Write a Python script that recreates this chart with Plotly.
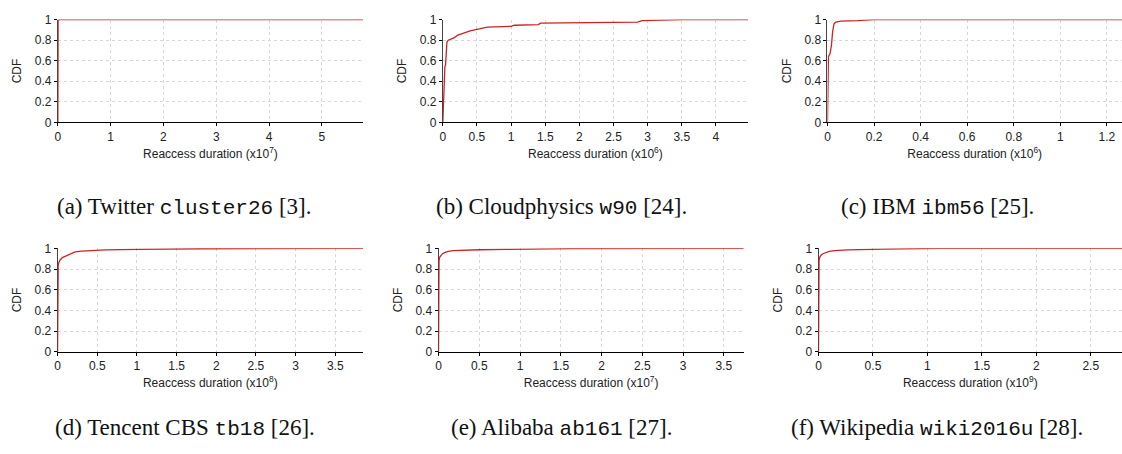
import plotly.graph_objects as go

W, H = 1122, 454

# ---------------- data ----------------
# (a) Twitter cluster26, x in units of 1e7
a_x = [0, 0.005, 0.03, 5.78]
a_y = [0, 0.995, 1.0, 1.0]
# (b) Cloudphysics w90, x in units of 1e6
b_x = [0, 0.008, 0.015, 0.022, 0.03, 0.04, 0.05, 0.06, 0.08, 0.12, 0.17, 0.22, 0.3,
       0.4, 0.5, 0.6, 0.65, 1.0, 1.05, 1.4, 1.43, 2.85, 2.92, 3.5, 4.47]
b_y = [0, 0.2, 0.4, 0.52, 0.54, 0.56, 0.7, 0.78, 0.8, 0.81, 0.825, 0.85, 0.87,
       0.89, 0.905, 0.922, 0.927, 0.935, 0.945, 0.952, 0.965, 0.975, 0.99, 1.0, 1.0]
# (c) IBM ibm56, x in units of 1e6
c_x = [0, 0.001, 0.004, 0.011, 0.017, 0.022, 0.028, 0.035, 0.057, 0.13, 0.2, 1.265]
c_y = [0, 0.6, 0.64, 0.67, 0.75, 0.88, 0.96, 0.975, 0.985, 0.99, 1.0, 1.0]
# (d) Tencent CBS tb18, x in units of 1e8
d_x = [0, 0.003, 0.008, 0.015, 0.03, 0.06, 0.1, 0.15, 0.18, 0.22, 0.3, 0.45, 0.6,
       1.0, 1.8, 3.85]
d_y = [0, 0.75, 0.83, 0.86, 0.885, 0.91, 0.925, 0.94, 0.955, 0.965, 0.972, 0.98,
       0.985, 0.99, 0.996, 1.0]
# (e) Alibaba ab161, x in units of 1e7
e_x = [0, 0.002, 0.006, 0.015, 0.03, 0.05, 0.08, 0.12, 0.18, 0.3, 0.5, 0.82, 1.63, 3.745]
e_y = [0, 0.8, 0.88, 0.915, 0.935, 0.948, 0.96, 0.97, 0.977, 0.983, 0.986, 0.99,
       0.997, 1.0]
# (f) Wikipedia wiki2016u, x in units of 1e9
f_x = [0, 0.002, 0.005, 0.012, 0.025, 0.045, 0.07, 0.1, 0.15, 0.27, 0.6, 1.12, 2.787]
f_y = [0, 0.8, 0.88, 0.915, 0.935, 0.95, 0.962, 0.97, 0.977, 0.984, 0.993, 0.999, 1.0]

x_ranges = [5.78, 4.47, 1.265, 3.85, 3.745, 2.787]
x_dticks = [1, 0.5, 0.2, 0.5, 0.5, 0.5]
exponents = ["7", "6", "6", "8", "7", "9"]
y_ticks = [0, 0.2, 0.4, 0.6, 0.8, 1]

MONO = "font-family:'Liberation Mono';font-size:21px"
captions = [
    f"(a) Twitter <span style=\"{MONO}\">cluster26</span> [3].",
    f"(b) Cloudphysics <span style=\"{MONO}\">w90</span> [24].",
    f"(c) IBM <span style=\"{MONO}\">ibm56</span> [25].",
    f"(d) Tencent CBS <span style=\"{MONO}\">tb18</span> [26].",
    f"(e) Alibaba <span style=\"{MONO}\">ab161</span> [27].",
    f"(f) Wikipedia <span style=\"{MONO}\">wiki2016u</span> [28].",
]

series = [(a_x, a_y), (b_x, b_y), (c_x, c_y), (d_x, d_y), (e_x, e_y), (f_x, f_y)]

# ---------------- layout (pixel boxes) ----------------
px_x = [(55, 361), (441, 747), (826.7, 1122), (54.7, 361), (436.7, 742.7), (817.7, 1122)]
px_y = [(13, 119), (13, 119), (13, 119), (249, 355.7), (249, 355.7), (249, 355.7)]
cap_x = [181, 560, 937, 182, 560, 937]
cap_y = [206, 206, 206, 434, 434, 434]

LINE = "#cc2222"
GRID = "#d8d8d8"
FONT = "Liberation Sans"
TXT = "#222"

fig = go.Figure()
layout = dict(width=W, height=H, margin=dict(l=0, r=0, t=0, b=0),
              plot_bgcolor="white", paper_bgcolor="white", showlegend=False)
annotations = []
for i in range(6):
    n = "" if i == 0 else str(i + 1)
    xs, ys = series[i]
    fig.add_trace(go.Scatter(x=xs, y=ys, mode="lines", line=dict(color=LINE, width=1.3),
                             xaxis="x" + n, yaxis="y" + n, hoverinfo="skip"))
    x0, x1 = px_x[i]
    y0, y1 = px_y[i]
    layout["xaxis" + n] = dict(
        domain=[x0 / W, min(x1 / W, 1)], anchor="y" + n, range=[0, x_ranges[i]],
        dtick=x_dticks[i], tick0=0, showgrid=True, gridcolor=GRID, griddash="dot",
        gridwidth=1, zeroline=False, showline=True, linecolor="black", linewidth=1,
        ticks="outside", ticklen=3, tickcolor="black", layer="below traces",
        tickfont=dict(family=FONT, size=12, color=TXT),
        title=dict(text=f"Reaccess duration (x10<sup>{exponents[i]}</sup>)",
                   font=dict(family=FONT, size=12, color=TXT), standoff=6),
    )
    layout["yaxis" + n] = dict(
        domain=[1 - y1 / H, 1 - y0 / H], anchor="x" + n, range=[0, 1],
        tickvals=y_ticks, ticktext=["0", "0.2", "0.4", "0.6", "0.8", "1"],
        showgrid=True, gridcolor=GRID, griddash="dot", gridwidth=1, zeroline=False,
        showline=True, linecolor="#444", linewidth=1, ticks="outside", ticklen=3,
        tickcolor="black", layer="below traces",
        tickfont=dict(family=FONT, size=12, color=TXT),
        title=dict(text="CDF", font=dict(family=FONT, size=12, color=TXT), standoff=10),
    )
    annotations.append(dict(x=cap_x[i] / W, y=1 - cap_y[i] / H, xref="paper", yref="paper",
                             text=captions[i], showarrow=False, xanchor="center",
                             yanchor="middle",
                             font=dict(family="Liberation Serif", size=23, color="#111")))
layout["annotations"] = annotations
fig.update_layout(**layout)
fig.write_html("out.html")
